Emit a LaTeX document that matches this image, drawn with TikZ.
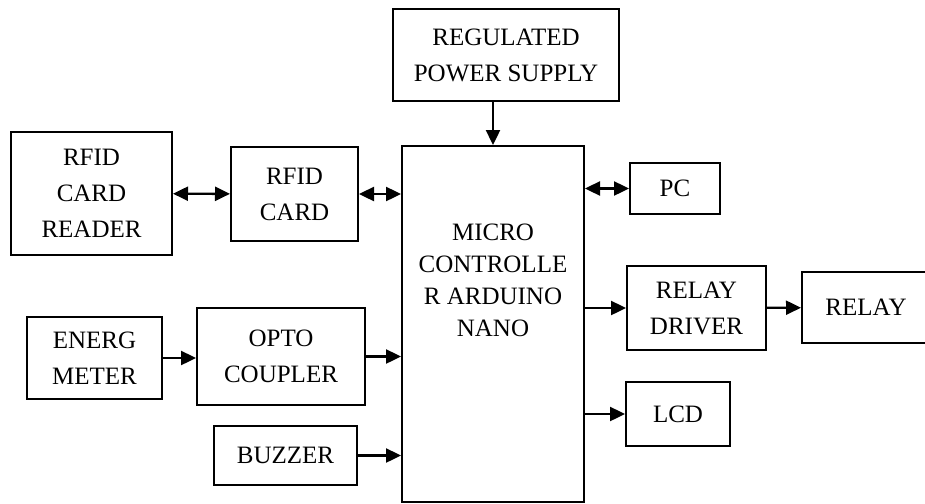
\documentclass[tikz,border=0pt]{standalone}
\usepackage{fontspec}
\setmainfont{Liberation Serif}
\usetikzlibrary{arrows.meta}

\begin{document}
\begin{tikzpicture}[x=0.5pt, y=-0.5pt,
        block/.style={rectangle, draw=black, line width=1pt, align=center, inner sep=2pt, font=\fontsize{12.5}{18}\selectfont},
        arrow/.style={draw=black, line width=1.2pt, -{Triangle[length=7.5pt,width=7pt]}},
        biarrow/.style={draw=black, line width=1.2pt, {Triangle[length=7.5pt,width=7pt]}-{Triangle[length=7.5pt,width=7pt]}}
    ]
        \useasboundingbox (0,0) rectangle (925,503);

        \node [block, minimum width=80.5pt, minimum height=61.5pt] (reader) at (91.5,193.5) {RFID\\ CARD\\ READER};
        \node [block, minimum width=63.5pt, minimum height=47pt] (card) at (294.5,194) {RFID\\ CARD};
        \node [block, minimum width=113pt, minimum height=46pt] (power) at (506,55) {REGULATED\\ POWER SUPPLY};
        \node [block, minimum width=91pt, minimum height=178pt] (micro) at (493,324) {};
        \node [align=center, font=\fontsize{12.5}{16}\selectfont] (microtxt) at (493,280) {MICRO\\ CONTROLLE\\ R ARDUINO\\ NANO};
        \node [block, minimum width=67.5pt, minimum height=41pt] (enm) at (94.5,358) {ENERG\\ METER};
        \node [block, minimum width=84pt, minimum height=48.5pt] (opto) at (281,356.5) {OPTO\\ COUPLER};
        \node [block, minimum width=71.5pt, minimum height=29.5pt] (buzzer) at (285.5,455.5) {BUZZER};
        \node [block, minimum width=45pt, minimum height=25.5pt] (pc) at (675,188.5) {PC};
        \node [block, minimum width=69.5pt, minimum height=42pt] (rdrv) at (696.5,308) {RELAY\\ DRIVER};
        \node [block, minimum width=64pt, minimum height=35.5pt] (relay) at (866,307.5) {RELAY};
        \node [block, minimum width=52pt, minimum height=32pt] (lcd) at (678,414) {LCD};

        \draw [biarrow] (reader) -- (card);
        \draw [biarrow] (card.east) -- (card.east -| micro.west);
        \draw [arrow] (enm.east) -- (enm.east -| opto.west);
        \draw [arrow] (opto.east) -- (opto.east -| micro.west);
        \draw [arrow] (buzzer.east) -- (buzzer.east -| micro.west);
        \draw [arrow] (micro.north |- power.south) -- (micro.north);
        \draw [biarrow] (micro.east |- pc.west) -- (pc.west);
        \draw [arrow] (micro.east |- rdrv.west) -- (rdrv.west);
        \draw [arrow] (rdrv) -- (relay);
        \draw [arrow] (micro.east |- lcd.west) -- (lcd.west);
    \end{tikzpicture}
\end{document}
